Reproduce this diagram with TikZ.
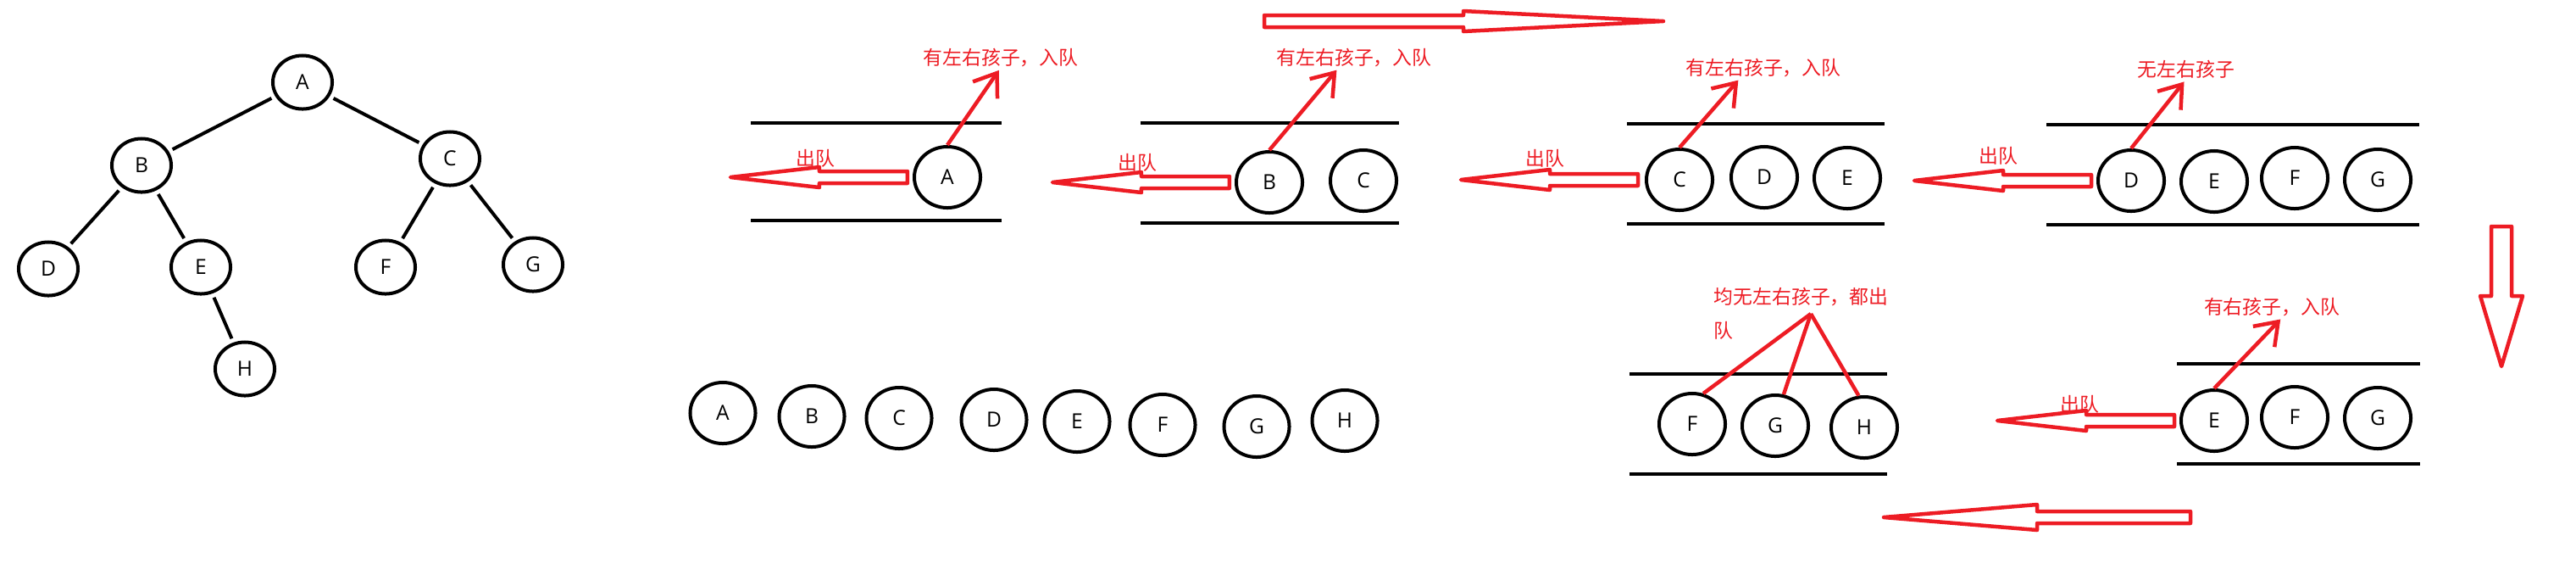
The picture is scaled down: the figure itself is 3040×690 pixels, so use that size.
\documentclass[tikz,border=0pt]{standalone}
\usepackage{fontspec}
\setmainfont{Open Sans}
\newfontfamily\cjk{Noto Sans CJK SC}
\usetikzlibrary{arrows.meta, shapes.geometric}
\definecolor{paintred}{RGB}{237,28,36}

% hollow block arrow: tail, shaft length, head length, shaft half width, head half width
\newcommand{\hollowarrow}[5]{%
  \draw[blockarrow] (#1) ++(0,#4) -- ++(#2,0) -- ++(0,{#5-#4}) -- ++(#3,{-(#5)})
    -- ++({-(#3)},{-(#5)}) -- ++(0,{#5-#4}) -- ++({-(#2)},0) -- cycle;}

\begin{document}
\begin{tikzpicture}[
    x=0.01cm, y=-0.01cm,
    treenode/.style={ellipse, draw, line width=0.04cm, inner sep=0pt,
      minimum width=0.70cm, minimum height=0.63cm, font=\fontsize{7pt}{8pt}\selectfont},
    qnode/.style={treenode, minimum width=0.78cm, minimum height=0.72cm},
    rownode/.style={treenode, minimum width=0.77cm, minimum height=0.72cm},
    wall/.style={line width=0.04cm},
    edge/.style={line width=0.04cm, shorten <=0.05cm, shorten >=0.05cm},
    lab/.style={text=paintred, inner sep=0pt, font=\cjk\fontsize{6.5pt}{11.4pt}\selectfont},
    redline/.style={draw=paintred, line width=0.045cm},
    inarrow/.style={redline, shorten >=0.04cm, -{Straight Barb[length=7pt, width=10pt]}},
    blockarrow/.style={draw=paintred, line width=0.045cm, line join=round}
]
\useasboundingbox (0,0) rectangle (3040,690);

% Tree
\node[treenode] (tA) at (357,97) {A};
\node[treenode] (tB) at (167,195) {B};
\node[treenode] (tC) at (531,187) {C};
\node[treenode] (tD) at (57,317) {D};
\node[treenode] (tE) at (237,315) {E};
\node[treenode] (tF) at (455,315) {F};
\node[treenode] (tG) at (629,312) {G};
\node[treenode] (tH) at (289,435) {H};

\draw[edge] (tA) -- (tB);
\draw[edge] (tA) -- (tC);
\draw[edge] (tB) -- (tD);
\draw[edge] (tB) -- (tE);
\draw[edge] (tE) -- (tH);
\draw[edge] (tC) -- (tF);
\draw[edge] (tC) -- (tG);

% Queue 1
\draw[wall] (886,145) -- (1182,145);
\draw[wall] (886,260) -- (1182,260);
\node[qnode] (q1a) at (1118,209) {A};

% Queue 2
\draw[wall] (1346,145) -- (1651,145);
\draw[wall] (1346,263) -- (1651,263);
\node[qnode] (q2b) at (1498,215) {B};
\node[qnode] (q2c) at (1609,213) {C};

% Queue 3
\draw[wall] (1920,146) -- (2224,146);
\draw[wall] (1920,264) -- (2224,264);
\node[qnode] (q3c) at (1982,212) {C};
\node[qnode] (q3d) at (2082,209) {D};
\node[qnode] (q3e) at (2180,210) {E};

% Queue 4
\draw[wall] (2415,147) -- (2855,147);
\draw[wall] (2415,265) -- (2855,265);
\node[qnode] (q4d) at (2515,213) {D};
\node[qnode] (q4e) at (2613,214) {E};
\node[qnode] (q4f) at (2708,210) {F};
\node[qnode] (q4g) at (2806,212) {G};

% Queue 5
\draw[wall] (2569,429) -- (2856,429);
\draw[wall] (2569,547) -- (2856,547);
\node[qnode] (q5e) at (2613,496) {E};
\node[qnode] (q5f) at (2708,492) {F};
\node[qnode] (q5g) at (2806,493) {G};

% Queue 6
\draw[wall] (1923,441) -- (2227,441);
\draw[wall] (1923,559) -- (2227,559);
\node[qnode] (q6f) at (1997,500) {F};
\node[qnode] (q6g) at (2095,502) {G};
\node[qnode] (q6h) at (2200,504) {H};

% Output order
\node[rownode] (r1) at (853,487) {A};
\node[rownode] (r2) at (958,491) {B};
\node[rownode] (r3) at (1061,493) {C};
\node[rownode] (r4) at (1173,495) {D};
\node[rownode] (r5) at (1271,497) {E};
\node[rownode] (r6) at (1372,501) {F};
\node[rownode] (r7) at (1483,503) {G};
\node[rownode] (r8) at (1587,496) {H};

% Labels
\node[lab] (l1) at (1181,68) {有左右孩子，入队};
\node[lab] (l2) at (1598,68) {有左右孩子，入队};
\node[lab] (l3) at (2081,80) {有左右孩子，入队};
\node[lab] (l4) at (2580,82) {无左右孩子};
\node[lab] (l5) at (2681,362) {有右孩子，入队};
\node[lab, anchor=north west, align=left] (l6) at (2022,338) {均无左右孩子，都出\\队};
\node[lab] (o1) at (962,187) {出队};
\node[lab] (o2) at (1342,192) {出队};
\node[lab] (o3) at (1823,187) {出队};
\node[lab] (o4) at (2358,184) {出队};
\node[lab] (o5) at (2454,477) {出队};

% Enqueue arrows
\draw[inarrow] (q1a.north) -- (l1.south);
\draw[inarrow] (q2b.north) -- ([xshift=-0.18cm]l2.south);
\draw[inarrow] (q3c.north) -- ([xshift=-0.27cm]l3.south);
\draw[inarrow] (q4d.north) -- (l4.south);
\draw[inarrow] (q5e.north) -- ([xshift=0.13cm]l5.south);

\coordinate (apex) at (2137,370);
\draw[redline] (q6f.70) -- (apex);
\draw[redline] (q6g.75) -- (apex);
\draw[redline] (q6h.100) -- (apex);

% Dequeue arrows
\hollowarrow{[xshift=-0.06cm]q1a.west}{-104}{-105}{7}{12}
\hollowarrow{[xshift=-0.06cm]q2b.west}{-104}{-105}{7}{12}
\hollowarrow{[xshift=-0.08cm]q3c.west}{-104}{-105}{7}{12}
\hollowarrow{[xshift=-0.06cm]q4d.west}{-104}{-105}{7}{12}
\hollowarrow{[xshift=-0.06cm]q5e.west}{-104}{-105}{7}{12}

% Direction arrows
\hollowarrow{1492,25}{235}{236}{7}{12}
\hollowarrow{2585,610}{-181}{-181}{7}{15}
\draw[blockarrow] (2940,267) -- (2964,267) -- (2964,349) -- (2977,349)
  -- (2952,432) -- (2927,349) -- (2940,349) -- cycle;

\end{tikzpicture}
\end{document}
